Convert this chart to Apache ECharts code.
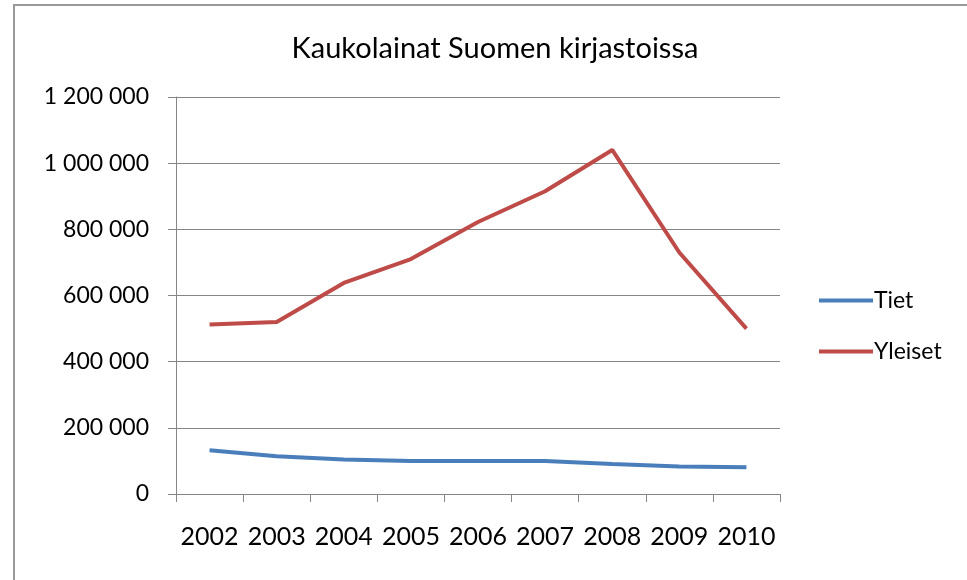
<!DOCTYPE html>
<html>
<head>
<meta charset="utf-8">
<script src="https://cdn.jsdelivr.net/npm/echarts@6/dist/echarts.min.js"></script>
<style>
  html, body { margin: 0; padding: 0; background: #fff; }
  #chart { width: 967px; height: 580px; }
</style>
</head>
<body>
<div id="chart"></div>
<script>
// data
var years = ['2002', '2003', '2004', '2005', '2006', '2007', '2008', '2009', '2010'];
var tiet = [132000, 114000, 104000, 100000, 100000, 100000, 91000, 83000, 81000];
var yleiset = [512000, 520000, 638000, 710000, 822000, 915000, 1040000, 730000, 500000];
var seriesNames = ['Tiet', 'Yleiset'];
var yTicks = { min: 0, max: 1200000, interval: 200000 };

var fontName = 'Lato';

function fmt(v) {
  return String(v).replace(/\B(?=(\d{3})+(?!\d))/g, ' ');
}

var myChart = echarts.init(document.getElementById('chart'));
var option = {
  backgroundColor: '#fff',
  animation: false,
  title: {
    text: 'Kaukolainat Suomen kirjastoissa',
    left: 490,
    textAlign: 'center',
    top: 29,
    textStyle: { fontFamily: fontName, fontSize: 29, fontWeight: 'normal', color: '#000' }
  },
  // outer frame (only top and left edges are visible in the picture)
  graphic: [{
    type: 'rect',
    shape: { x: 14, y: 5, width: 1000, height: 620 },
    style: { fill: 'none', stroke: '#999', lineWidth: 2 },
    silent: true
  }],
  legend: {
    orient: 'vertical',
    left: 814,
    top: 284,
    itemWidth: 54,
    itemHeight: 4,
    itemGap: 28,
    icon: 'rect',
    data: seriesNames,
    textStyle: { fontFamily: fontName, fontSize: 23, color: '#000', padding: [0, 0, 0, -4] }
  },
  grid: { left: 176, right: 187, top: 97, bottom: 86, containLabel: false },
  xAxis: {
    type: 'category',
    data: years,
    boundaryGap: true,
    axisLine: { lineStyle: { color: '#868686', width: 1 } },
    axisTick: { show: true, length: 8, lineStyle: { color: '#868686' } },
    axisLabel: { fontFamily: fontName, fontSize: 25, color: '#000', margin: 30, interval: 0, hideOverlap: false }
  },
  yAxis: {
    type: 'value',
    min: yTicks.min,
    max: yTicks.max,
    interval: yTicks.interval,
    axisLine: { show: true, lineStyle: { color: '#868686', width: 1 } },
    axisTick: { show: true, length: 8, lineStyle: { color: '#868686' } },
    splitLine: { lineStyle: { color: '#868686', width: 1 } },
    axisLabel: { fontFamily: fontName, fontSize: 23, color: '#000', margin: 27, formatter: fmt }
  },
  series: [
    {
      name: seriesNames[0],
      type: 'line',
      data: tiet,
      symbol: 'none',
      color: '#4a7ebb',
      lineStyle: { width: 4, color: '#4a7ebb' }
    },
    {
      name: seriesNames[1],
      type: 'line',
      data: yleiset,
      symbol: 'none',
      color: '#be4b48',
      lineStyle: { width: 4, color: '#be4b48' }
    }
  ]
};
myChart.setOption(option);
</script>
</body>
</html>
